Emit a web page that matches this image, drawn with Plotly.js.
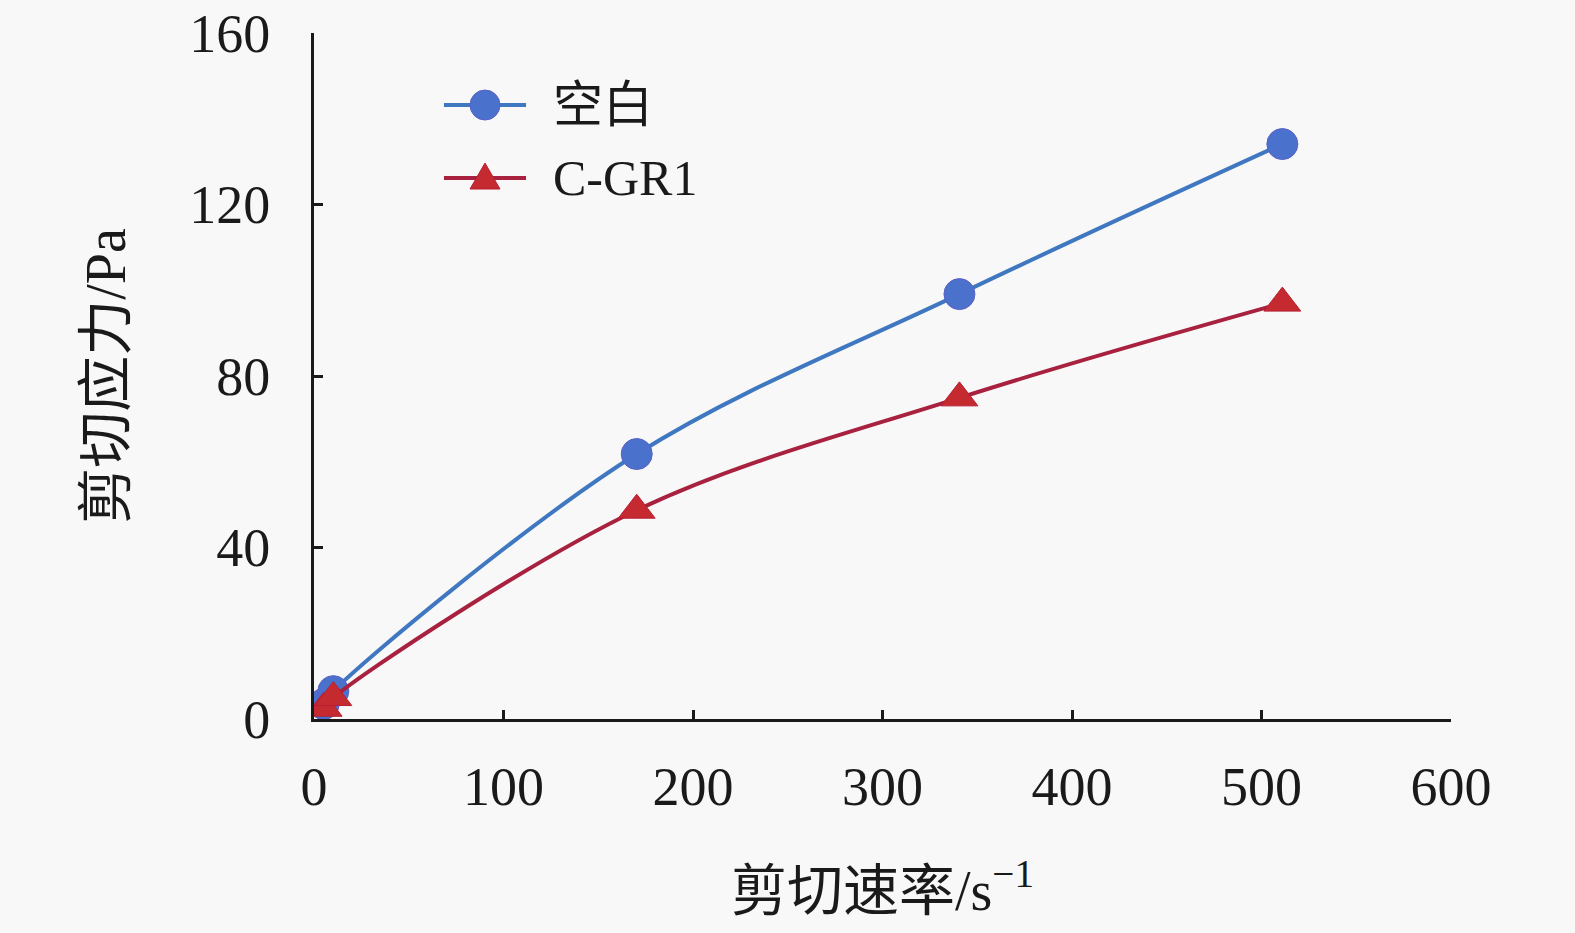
<!DOCTYPE html>
<html>
<head>
<meta charset="utf-8">
<script src="https://cdn.plot.ly/plotly-3.0.1.min.js"></script>
<style>html,body{margin:0;padding:0;background:#f8f8f8;}#chart{width:1575px;height:933px;}</style>
</head>
<body>
<div id="chart"></div>
<script>
const shearRate = [5.1, 10.2, 170.3, 340.6, 511];
const blankStress = [3.5, 6.5, 61.8, 99.1, 134.1];
const cgr1Stress = [2.5, 5.0, 48.7, 74.9, 97.0];
const seriesNames = ["空白", "C-GR1"];
const xTicks = [0, 100, 200, 300, 400, 500, 600];
const yTicks = [0, 40, 80, 120, 160];

const fontFam = "'Liberation Serif', 'Times New Roman', 'Noto Sans CJK SC', serif";
const blueLine = '#3f78c0', blueMarker = '#4a72cc';
const redLine = '#a8213f', redMarker = '#c42a30';

const traces = [
  {
    x: shearRate, y: blankStress, name: seriesNames[0],
    type: 'scatter', mode: 'lines+markers',
    line: {color: blueLine, width: 4, shape: 'spline'},
    marker: {symbol: 'circle', size: 31, color: blueMarker, line: {color: '#5a5fc8', width: 1}}
  },
  {
    x: shearRate, y: cgr1Stress, name: seriesNames[1],
    type: 'scatter', mode: 'lines+markers',
    line: {color: redLine, width: 4, shape: 'spline'},
    marker: {symbol: 'triangle-up', size: 32, color: redMarker, line: {color: '#b81f35', width: 1}}
  }
];

// legend drawn manually (paper coordinates of the plot area)
const legRows = [0.895, 0.7886];
const legLineX = [0.1143, 0.1865];
const legSymX = 0.1504;
const legTextX = 0.2084;

const shapes = [
  {type: 'line', xref: 'paper', yref: 'paper', x0: legLineX[0], x1: legLineX[1], y0: legRows[0], y1: legRows[0], line: {color: blueLine, width: 4}},
  {type: 'circle', xref: 'paper', yref: 'paper', xsizemode: 'pixel', ysizemode: 'pixel', xanchor: legSymX, yanchor: legRows[0], x0: -15, x1: 15, y0: -15, y1: 15, fillcolor: blueMarker, line: {color: '#5a5fc8', width: 1}},
  {type: 'line', xref: 'paper', yref: 'paper', x0: legLineX[0], x1: legLineX[1], y0: legRows[1], y1: legRows[1], line: {color: redLine, width: 4}},
  {type: 'path', xref: 'paper', yref: 'paper', xsizemode: 'pixel', ysizemode: 'pixel', xanchor: legSymX, yanchor: legRows[1], path: 'M -15 -11 L 15 -11 L 0 15 Z', fillcolor: redMarker, line: {color: '#b81f35', width: 1}}
];

const annotations = seriesNames.map((n, i) => ({
  text: n, xref: 'paper', yref: 'paper', x: legTextX, y: legRows[i],
  xanchor: 'left', yanchor: 'middle', showarrow: false,
  font: {family: fontFam, size: 50, color: '#1a1a1a'}
}));

const layout = {
  width: 1575, height: 933,
  paper_bgcolor: '#f8f8f8', plot_bgcolor: '#f8f8f8',
  margin: {l: 314, r: 124, t: 33, b: 214},
  font: {family: fontFam, color: '#1a1a1a', size: 52},
  showlegend: false,
  shapes: shapes,
  annotations: annotations,
  xaxis: {
    range: [0, 600], tickvals: xTicks, ticktext: xTicks.map(String),
    showline: true, linecolor: '#1a1a1a', linewidth: 3,
    ticks: 'inside', ticklen: 9, tickwidth: 3, tickcolor: '#1a1a1a',
    showgrid: false, zeroline: false, ticklabelstandoff: 18,
    tickfont: {family: fontFam, size: 54, color: '#1a1a1a'},
    title: {text: '剪切速率/s<sup>−1</sup>', font: {family: fontFam, size: 56, color: '#1a1a1a'}, standoff: 56}
  },
  yaxis: {
    range: [0, 160], tickvals: yTicks, ticktext: yTicks.map(String),
    showline: true, linecolor: '#1a1a1a', linewidth: 3,
    ticks: 'inside', ticklen: 9, tickwidth: 3, tickcolor: '#1a1a1a',
    showgrid: false, zeroline: false, ticklabelstandoff: 30,
    tickfont: {family: fontFam, size: 54, color: '#1a1a1a'},
    title: {text: '剪切应力/Pa', font: {family: fontFam, size: 56, color: '#1a1a1a'}, standoff: 46}
  }
};

Plotly.newPlot('chart', traces, layout, {displayModeBar: false, staticPlot: true});
</script>
</body>
</html>
